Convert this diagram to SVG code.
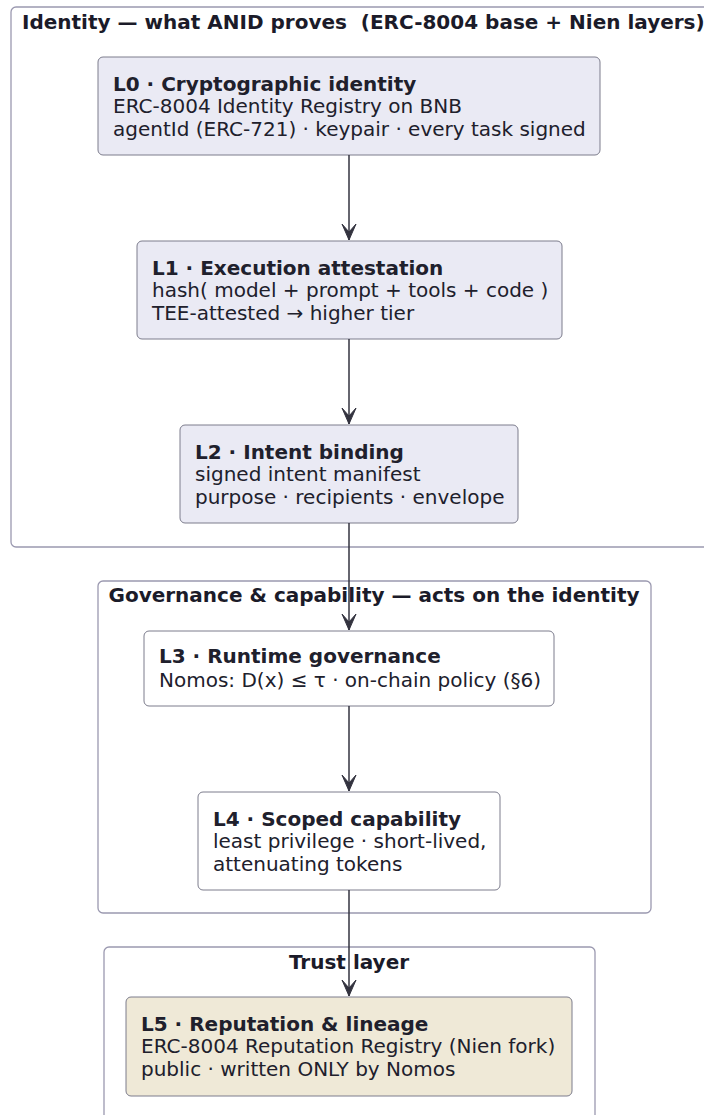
<svg xmlns="http://www.w3.org/2000/svg" width="704" height="1115" viewBox="0 0 704 1115">
<style>
.cl{fill:none;stroke:#9b99b0;stroke-width:1.3}
.ct{font-family:"DejaVu Sans",sans-serif;font-size:20px;font-weight:bold;fill:#1b1b29;white-space:pre}
.bx{stroke:#7c7c8c;stroke-width:1}
.id{fill:#eaeaf4}
.gv{fill:#ffffff}
.tr{fill:#efe9d7}
.t{font-family:"DejaVu Sans",sans-serif;font-size:20px;fill:#20202c}
.b{font-weight:bold}
.cn{stroke:#33333f;stroke-width:1.5;fill:none}
</style>
<defs>
<marker id="av" markerUnits="userSpaceOnUse" markerWidth="16" markerHeight="17" refX="8" refY="17" orient="0" viewBox="0 0 16 17">
<path d="M8,17 L1,1 L8,9 L15,1 Z" fill="#33333f" stroke="#33333f" stroke-width="1" stroke-linejoin="miter"/>
</marker>
</defs>
<g id="cluster-identity">
<rect class="cl" x="11" y="7" width="710" height="540" rx="5"/>
<text class="ct" x="22" y="29" xml:space="preserve">Identity — what ANID proves  (ERC-8004 base + Nien layers)</text>
</g>
<g id="cluster-governance">
<rect class="cl" x="98" y="581" width="553" height="332" rx="5"/>
<text class="ct" x="374" y="602" text-anchor="middle">Governance &amp; capability — acts on the identity</text>
</g>
<g id="cluster-trust">
<rect class="cl" x="104" y="947" width="491" height="190" rx="5"/>
<text class="ct" x="349" y="969" text-anchor="middle">Trust layer</text>
</g>
<g id="L0">
<rect class="bx id" x="98" y="57" width="502" height="98" rx="5"/>
<text class="t b" x="113" y="90.5">L0 · Cryptographic identity</text>
<text class="t" x="113" y="113">ERC-8004 Identity Registry on BNB</text>
<text class="t" x="113" y="135.5">agentId (ERC-721) · keypair · every task signed</text>
</g>
<g id="L1">
<rect class="bx id" x="137" y="241" width="425" height="98" rx="5"/>
<text class="t b" x="152" y="274.5">L1 · Execution attestation</text>
<text class="t" x="152" y="297">hash( model + prompt + tools + code )</text>
<text class="t" x="152" y="319.5">TEE-attested → higher tier</text>
</g>
<g id="L2">
<rect class="bx id" x="180" y="425" width="338" height="98" rx="5"/>
<text class="t b" x="195" y="458.5">L2 · Intent binding</text>
<text class="t" x="195" y="481">signed intent manifest</text>
<text class="t" x="195" y="503.5">purpose · recipients · envelope</text>
</g>
<g id="L3">
<rect class="bx gv" x="144" y="631" width="410" height="75" rx="5"/>
<text class="t b" x="159" y="663">L3 · Runtime governance</text>
<text class="t" x="159" y="686.5">Nomos: D(x) ≤ τ · on-chain policy (§6)</text>
</g>
<g id="L4">
<rect class="bx gv" x="198" y="792" width="302" height="98" rx="5"/>
<text class="t b" x="213" y="825.5">L4 · Scoped capability</text>
<text class="t" x="213" y="848">least privilege · short-lived,</text>
<text class="t" x="213" y="870.5">attenuating tokens</text>
</g>
<g id="L5">
<rect class="bx tr" x="126" y="997" width="446" height="99" rx="5"/>
<text class="t b" x="141" y="1030.5">L5 · Reputation &amp; lineage</text>
<text class="t" x="141" y="1053">ERC-8004 Reputation Registry (Nien fork)</text>
<text class="t" x="141" y="1075.5">public · written ONLY by Nomos</text>
</g>
<g id="connectors">
<line class="cn" x1="349" y1="155" x2="349" y2="240" marker-end="url(#av)"/>
<line class="cn" x1="349" y1="339" x2="349" y2="424" marker-end="url(#av)"/>
<line class="cn" x1="349" y1="523" x2="349" y2="630" marker-end="url(#av)"/>
<line class="cn" x1="349" y1="706" x2="349" y2="791" marker-end="url(#av)"/>
<line class="cn" x1="349" y1="890" x2="349" y2="996" marker-end="url(#av)"/>
</g>
</svg>
